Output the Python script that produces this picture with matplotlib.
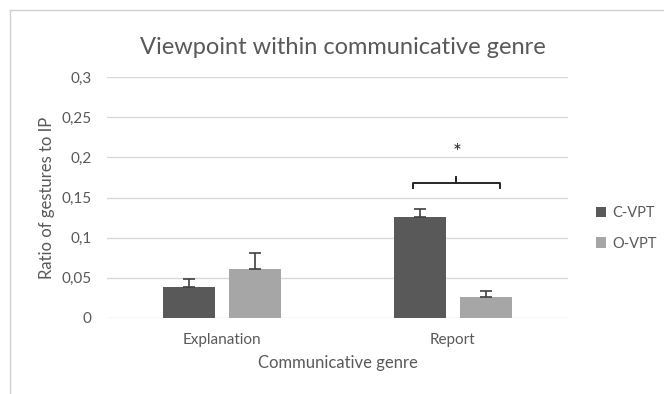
import numpy as np
import matplotlib
matplotlib.use('Agg')
from matplotlib import pyplot as plt
from matplotlib.lines import Line2D

plt.rcParams['font.family'] = ['Lato', 'DejaVu Sans']

# ratio of gestures to IP per genre, with upper error
genres = ['Explanation', 'Report']
series = ['C-VPT', 'O-VPT']
c_vpt = [0.038, 0.126]
o_vpt = [0.061, 0.026]
c_err = [0.010, 0.010]
o_err = [0.020, 0.007]
ticks = [0, 0.05, 0.1, 0.15, 0.2, 0.25, 0.3]
tick_labels = ['0', '0,05', '0,1', '0,15', '0,2', '0,25', '0,3']

dark = '#595959'
light = '#a6a6a6'
grid = '#d9d9d9'
txt = '#595959'

fig = plt.figure(figsize=(6.64, 3.94), dpi=100)
ax = fig.add_axes((107/664, 76.3/394, 461/664, 240.4/394))

x = np.arange(len(genres))
w = 0.2256
off = 0.143

ax.bar(x - off, c_vpt, w, color=dark, label=series[0], zorder=3)
ax.bar(x + off, o_vpt, w, color=light, label=series[1], zorder=3)
ax.errorbar(x - off, c_vpt, yerr=[np.zeros(2), c_err], fmt='none', ecolor='#404040',
            elinewidth=1.2, capsize=4.5, capthick=1.2, zorder=4)
ax.errorbar(x + off, o_vpt, yerr=[np.zeros(2), o_err], fmt='none', ecolor='#404040',
            elinewidth=1.2, capsize=4.5, capthick=1.2, zorder=4)

ax.set_xlim(-0.5, 1.5)
ax.set_ylim(0, 0.3)
ax.set_yticks(ticks)
ax.set_yticklabels(tick_labels)
ax.set_xticks(x)
ax.set_xticklabels(genres)
ax.yaxis.grid(True, color=grid, linewidth=1, zorder=0)
ax.set_axisbelow(True)
for s in ax.spines.values():
    s.set_visible(False)
ax.tick_params(axis='both', length=0, labelsize=11, labelcolor=txt)
ax.tick_params(axis='y', pad=11)
ax.tick_params(axis='x', pad=11)

ax.set_ylabel('Ratio of gestures to IP', fontsize=12, color=txt, labelpad=5)
ax.set_xlabel('Communicative genre', fontsize=12, color=txt, labelpad=6)
ax.set_title('Viewpoint within communicative genre', fontsize=17, color=txt, pad=17, x=0.511)

# significance bracket over Report
bx0, bx1, by = 0.8275, 1.205, 0.168
ax.plot([bx0, bx0, bx1, bx1], [by - 0.006, by, by, by - 0.006], color='#262626', lw=1.4, zorder=5)
ax.plot([1.016, 1.016], [by, by + 0.007], color='#262626', lw=1.4, zorder=5)
ax.text(1.02, 0.205, '*', ha='center', va='center', fontsize=15, color='#262626')

leg = ax.legend(loc='center left', bbox_to_anchor=(1.032, 0.371), frameon=False,
                fontsize=10.5, handlelength=0.7, handleheight=0.7, handletextpad=0.45,
                labelspacing=1.1, labelcolor=txt)

# chart border
fig.add_artist(Line2D([10/664, 1.0], [1 - 10/394, 1 - 10/394], color='#d0d0d0', lw=1))
fig.add_artist(Line2D([10/664, 10/664], [0, 1 - 10/394], color='#d0d0d0', lw=1))

fig.savefig('out.png', dpi=100, facecolor='white')
